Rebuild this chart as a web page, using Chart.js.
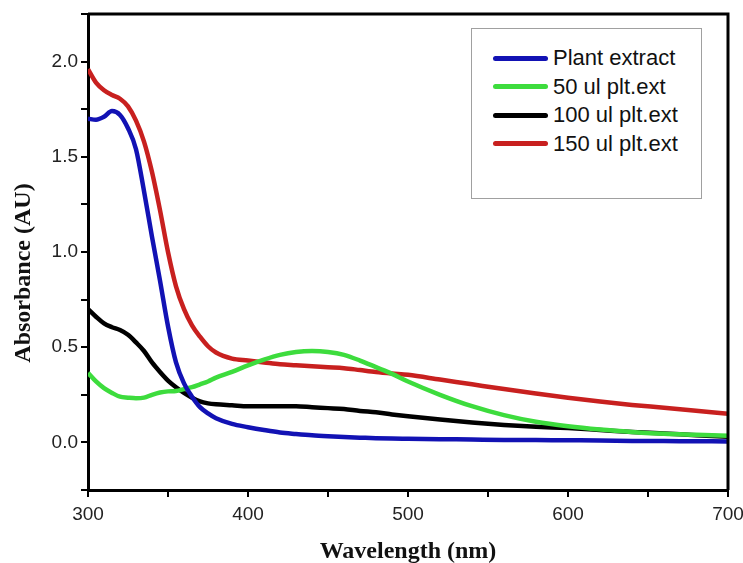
<!DOCTYPE html>
<html>
<head>
<meta charset="utf-8">
<script src="https://cdn.jsdelivr.net/npm/chart.js@4.4.1/dist/chart.umd.min.js"></script>
<style>
  html, body { margin: 0; padding: 0; background: #fff; }
  #wrap { position: relative; width: 743px; height: 563px; }
  #c { position: absolute; left: 0; top: 0; }
  #legend { position: absolute; left: 471px; top: 28px; width: 229px; height: 169px;
            border: 1px solid #a0a0a0; background: #fff; box-sizing: content-box; }
  .item { position: absolute; left: 21px; height: 28px; display: flex; align-items: center;
          font-family: "Liberation Sans", Arial, sans-serif; font-size: 22px; color: #111; white-space: nowrap; }
  .swatch { width: 55px; height: 5px; border-radius: 3px; margin-right: 5px; }
</style>
</head>
<body>
<div id="wrap">
  <canvas id="c" width="743" height="563"></canvas>
  <div id="legend"></div>
</div>
<script>
// ---- data ----
const wavelengths = [300,305,310,315,320,325,330,335,340,345,350,355,360,365,370,375,380,390,400,410,420,430,440,450,460,470,480,490,500,520,540,560,580,600,620,640,660,680,700];

const plantExtract = [1.70,1.695,1.71,1.74,1.72,1.65,1.54,1.32,1.08,0.85,0.61,0.42,0.31,0.24,0.185,0.152,0.127,0.097,0.08,0.065,0.052,0.044,0.037,0.032,0.028,0.025,0.022,0.020,0.019,0.017,0.015,0.013,0.012,0.011,0.010,0.008,0.007,0.006,0.005];

const ul50 = [0.365,0.32,0.285,0.26,0.24,0.235,0.232,0.235,0.25,0.262,0.268,0.27,0.28,0.29,0.305,0.32,0.34,0.37,0.405,0.435,0.46,0.475,0.48,0.475,0.46,0.43,0.395,0.36,0.32,0.25,0.19,0.143,0.108,0.085,0.068,0.055,0.045,0.04,0.035];

const ul100 = [0.70,0.66,0.625,0.605,0.59,0.565,0.525,0.48,0.42,0.37,0.325,0.29,0.26,0.235,0.215,0.205,0.20,0.195,0.19,0.19,0.19,0.19,0.185,0.18,0.175,0.165,0.158,0.147,0.137,0.12,0.105,0.092,0.082,0.075,0.065,0.055,0.047,0.038,0.03];

const ul150 = [1.96,1.89,1.85,1.825,1.805,1.765,1.69,1.58,1.42,1.22,1.00,0.82,0.70,0.615,0.555,0.505,0.472,0.44,0.43,0.42,0.41,0.405,0.40,0.395,0.39,0.38,0.37,0.362,0.355,0.33,0.305,0.28,0.257,0.235,0.215,0.197,0.182,0.166,0.15];

const seriesLabels = ["Plant extract", "50 ul plt.ext", "100 ul plt.ext", "150 ul plt.ext"];
const seriesValues = [plantExtract, ul50, ul100, ul150];
const seriesColors = ["#1212b4", "#3ddc3d", "#000000", "#c8201f"];

const xTicks = [300, 400, 500, 600, 700];
const yTicks = [0.0, 0.5, 1.0, 1.5, 2.0];
const xTitle = "Wavelength (nm)";
const yTitle = "Absorbance (AU)";

// ---- build ----
const datasets = seriesValues.map((vals, i) => ({
  label: seriesLabels[i],
  data: wavelengths.map((w, j) => ({ x: w, y: vals[j] })),
  borderColor: seriesColors[i],
  backgroundColor: seriesColors[i],
  borderWidth: 4.5,
  pointRadius: 0,
  cubicInterpolationMode: 'monotone',
  fill: false
}));

const near = (a, b) => Math.abs(a - b) < 1e-6;

const framePlugin = {
  id: 'frame',
  afterDraw(chart) {
    const { ctx, chartArea: a } = chart;
    ctx.save();
    ctx.strokeStyle = '#000';
    ctx.lineWidth = 3;
    ctx.beginPath();
    ctx.moveTo(a.left, a.top);
    ctx.lineTo(a.right, a.top);
    ctx.lineTo(a.right, a.bottom);
    ctx.stroke();
    // axis titles
    ctx.fillStyle = '#111';
    ctx.font = 'bold 24px "Liberation Serif", "Times New Roman", serif';
    ctx.textAlign = 'center';
    ctx.textBaseline = 'alphabetic';
    ctx.fillText(xTitle, (a.left + a.right) / 2, 558);
    ctx.translate(30, 273);
    ctx.rotate(-Math.PI / 2);
    ctx.fillText(yTitle, 0, 0);
    ctx.restore();
  }
};

new Chart(document.getElementById('c'), {
  type: 'line',
  data: { datasets },
  options: {
    responsive: false,
    animation: false,
    devicePixelRatio: 1,
    layout: { padding: { top: 14, right: 15, left: 0, bottom: 0 } },
    plugins: { legend: { display: false }, tooltip: { enabled: false } },
    scales: {
      x: {
        type: 'linear',
        min: 300, max: 700,
        afterFit(s) { s.height = 73; s.paddingLeft = 0; s.paddingRight = 0; },
        border: { display: true, color: '#000', width: 3 },
        grid: { drawOnChartArea: false, color: '#000', lineWidth: 2, tickLength: 7, drawTicks: true },
        ticks: {
          stepSize: 50, autoSkip: false, maxRotation: 0, padding: 6,
          color: '#222',
          font: { family: '"Liberation Sans", Arial, sans-serif', size: 19 },
          callback: (v) => xTicks.some(t => near(t, v)) ? String(v) : ''
        }
      },
      y: {
        type: 'linear',
        min: -0.25, max: 2.25,
        afterFit(s) { s.width = 88; s.paddingTop = 0; s.paddingBottom = 0; },
        border: { display: true, color: '#000', width: 3 },
        grid: { drawOnChartArea: false, color: '#000', lineWidth: 2, tickLength: 7, drawTicks: true },
        ticks: {
          stepSize: 0.25, autoSkip: false, padding: 3,
          color: '#222',
          font: { family: '"Liberation Sans", Arial, sans-serif', size: 19 },
          callback: (v) => yTicks.some(t => near(t, v)) ? v.toFixed(1) : ''
        }
      }
    }
  },
  plugins: [framePlugin]
});

// ---- legend (HTML, from the series arrays) ----
const legend = document.getElementById('legend');
seriesLabels.forEach((lab, i) => {
  const it = document.createElement('div');
  it.className = 'item';
  it.style.top = (15 + i * 28.5) + 'px';
  const sw = document.createElement('span');
  sw.className = 'swatch';
  sw.style.background = seriesColors[i];
  const tx = document.createElement('span');
  tx.textContent = lab;
  it.appendChild(sw); it.appendChild(tx);
  legend.appendChild(it);
});
</script>
</body>
</html>
